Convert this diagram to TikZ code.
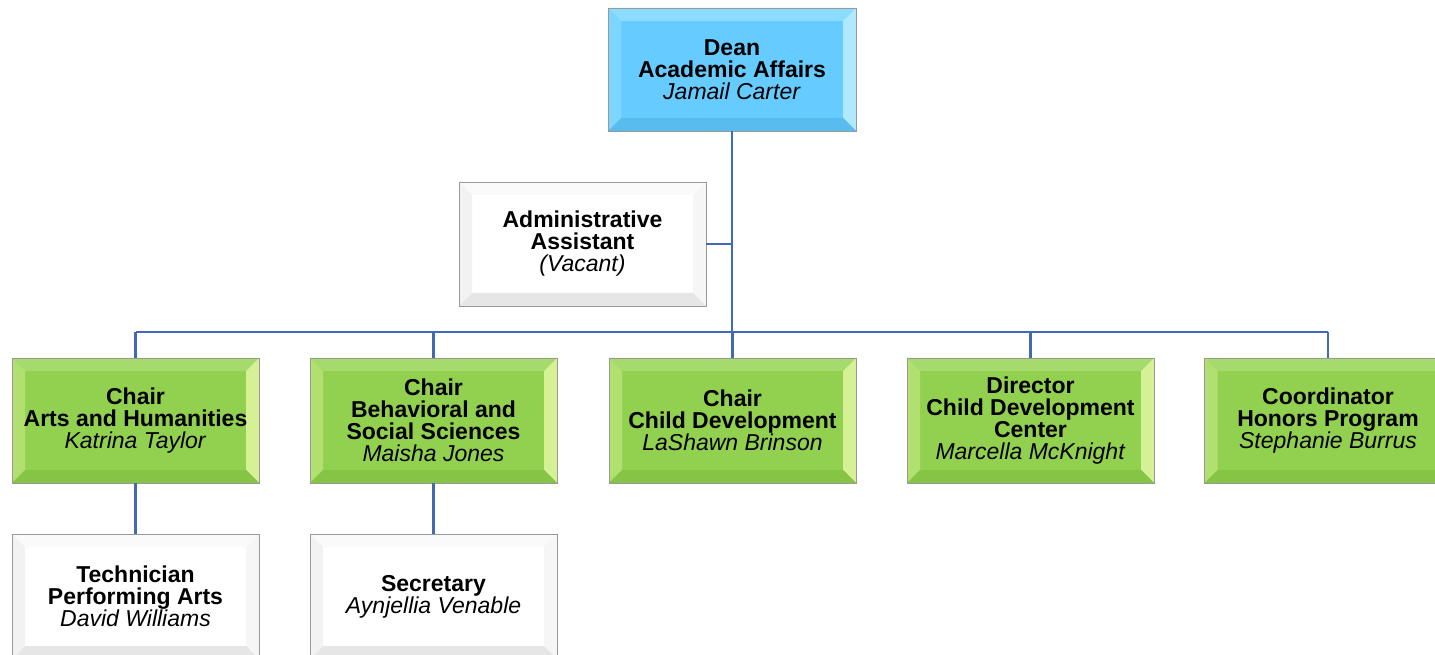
\documentclass[tikz,border=0pt]{standalone}
\usepackage{fontspec}
\setmainfont{Liberation Sans}
\usetikzlibrary{calc}
\definecolor{linecol}{RGB}{65,105,180}
\definecolor{blueface}{RGB}{102,204,255}
\definecolor{bluetop}{RGB}{140,220,255}
\definecolor{blueleft}{RGB}{125,214,255}
\definecolor{blueright}{RGB}{175,232,255}
\definecolor{bluebot}{RGB}{88,188,238}
\definecolor{greenface}{RGB}{146,208,80}
\definecolor{greentop}{RGB}{166,218,108}
\definecolor{greenleft}{RGB}{178,224,112}
\definecolor{greenright}{RGB}{214,240,150}
\definecolor{greenbot}{RGB}{134,196,70}
\definecolor{whiteface}{RGB}{255,255,255}
\definecolor{whitetop}{RGB}{250,250,250}
\definecolor{whiteleft}{RGB}{242,242,242}
\definecolor{whiteright}{RGB}{246,246,246}
\definecolor{whitebot}{RGB}{230,230,230}
\tikzset{
  x=1pt,y=1pt,
  bevelbox/.style={
    draw=black!40, line width=0.8pt, fill=#1face,
    minimum width=247, minimum height=124, inner sep=0pt,
    align=center, font=\fontsize{23}{22}\selectfont,
    path picture={
      \coordinate (pnw) at (path picture bounding box.north west);
      \coordinate (pne) at (path picture bounding box.north east);
      \coordinate (psw) at (path picture bounding box.south west);
      \coordinate (pse) at (path picture bounding box.south east);
      \fill[#1top] (pnw) -- (pne) -- ($(pne)+(-13,-13)$) -- ($(pnw)+(13,-13)$) -- cycle;
      \fill[#1left] (pnw) -- ($(pnw)+(13,-13)$) -- ($(psw)+(13,13)$) -- (psw) -- cycle;
      \fill[#1right] (pne) -- ($(pne)+(-13,-13)$) -- ($(pse)+(-13,13)$) -- (pse) -- cycle;
      \fill[#1bot] (psw) -- ($(psw)+(13,13)$) -- ($(pse)+(-13,13)$) -- (pse) -- cycle;
    }},
  conn/.style={draw=linecol, line width=2.6pt},
}
\newcommand{\ttl}[1]{\textbf{#1}}
\newcommand{\who}[1]{\textit{#1}}
\begin{document}
\begin{tikzpicture}
\useasboundingbox (0,0) rectangle (1435,654);
\clip (0,0) rectangle (1435,654);
\coordinate (bus) at (732,322);
\node[bevelbox=blue, minimum width=248, minimum height=123] (dean) at (732,584.5)
  {\ttl{Dean}\\\ttl{Academic Affairs}\\\who{Jamail Carter}};
\node[bevelbox=white] (admin) at (582.5,410)
  {\ttl{Administrative}\\\ttl{Assistant}\\\who{(Vacant)}};
\node[bevelbox=green, minimum height=125] (c1) at (135.5,233.5)
  {\ttl{Chair}\\\ttl{Arts and Humanities}\\\who{Katrina Taylor}};
\node[bevelbox=green, minimum height=125] (c2) at (433.5,233.5)
  {\ttl{Chair}\\\ttl{Behavioral and}\\\ttl{Social Sciences}\\\who{Maisha Jones}};
\node[bevelbox=green, minimum height=125] (c3) at (732.5,233.5)
  {\ttl{Chair}\\\ttl{Child Development}\\\who{LaShawn Brinson}};
\node[bevelbox=green, minimum height=125] (c4) at (1030.5,233.5)
  {\ttl{Director}\\\ttl{Child Development}\\\ttl{Center}\\\who{Marcella McKnight}};
\node[bevelbox=green, minimum height=125] (c5) at (1328,233.5)
  {\ttl{Coordinator}\\\ttl{Honors Program}\\\who{Stephanie Burrus}};
\node[bevelbox=white, minimum height=125] (t1) at (135.5,57.5)
  {\ttl{Technician}\\\ttl{Performing Arts}\\\who{David Williams}};
\node[bevelbox=white, minimum height=125] (t2) at (433.5,57.5)
  {\ttl{Secretary}\\\who{Aynjellia Venable}};
\draw[conn] (dean.south) -- (bus);
\draw[conn] (admin.east) -- (admin.east -| dean.south);
\draw[conn] (c1.north |- bus) -- (c5.north |- bus);
\foreach \c in {c1,c2,c3,c4,c5} \draw[conn] (\c.north |- bus) -- (\c.north);
\draw[conn] (c1.south) -- (t1.north);
\draw[conn] (c2.south) -- (t2.north);
\end{tikzpicture}
\end{document}
